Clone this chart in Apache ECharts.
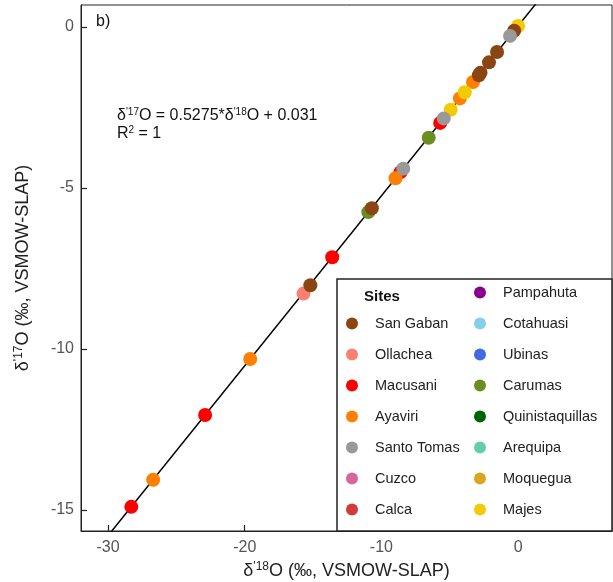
<!DOCTYPE html>
<html>
<head>
<meta charset="utf-8">
<script src="https://cdn.jsdelivr.net/npm/echarts@6.0.0/dist/echarts.min.js"></script>
<style>
  html, body { margin: 0; padding: 0; background: #fff; }
  #chart { width: 613px; height: 582px; }
</style>
</head>
<body>
<div id="chart"></div>
<script>
const FONT = "Liberation Sans, Arial, Helvetica, sans-serif";

const SITES = [
  "San Gaban", "Ollachea", "Macusani", "Ayaviri", "Santo Tomas", "Cuzco", "Calca",
  "Pampahuta", "Cotahuasi", "Ubinas", "Carumas", "Quinistaquillas", "Arequipa", "Moquegua", "Majes",
];
const SITE_COLORS = [
  "#8B4513", "#FA8072", "#FF0000", "#FF8000", "#999999", "#D6679C", "#D23A3A",
  "#8B008B", "#87CEEB", "#4169E1", "#6B8E23", "#006400", "#66CDAA", "#DAA520", "#F2CB05",
];
// draw order, higher on top
const SITE_Z = [4, 3, 3, 3, 5, 3, 3, 3, 3, 3, 2, 3, 3, 3, 3];

// d'18O values per site
const D18 = {
  "San Gaban": [-15.2, -10.7, -2.87, -2.75, -2.13, -1.54, -0.29],
  "Ollachea": [-15.7],
  "Macusani": [-28.3, -22.9, -13.6, -8.6, -5.7],
  "Ayaviri": [-26.7, -19.6, -8.97, -4.26, -3.3],
  "Santo Tomas": [-8.4, -5.44, -0.59],
  "Carumas": [-10.96, -6.54],
  "Majes": [-4.93, -3.9, 0.0],
};
// d'17O values per site
const D17 = {
  "San Gaban": [-8.02, -5.63, -1.5, -1.42, -1.1, -0.78, -0.12],
  "Ollachea": [-8.28],
  "Macusani": [-14.9, -12.05, -7.15, -4.51, -2.98],
  "Ayaviri": [-14.06, -10.31, -4.7, -2.22, -1.71],
  "Santo Tomas": [-4.4, -2.84, -0.28],
  "Carumas": [-5.75, -3.44],
  "Majes": [-2.57, -2.03, 0.03],
};

// regression line end points
const FIT_X = [-32, 2];
const FIT_Y = [-16.849, 1.086];

const X_TICKS = [-30, -20, -10, 0];
const Y_TICKS = [-15, -10, -5, 0];

const chartElement = document.getElementById("chart");
const chart = echarts.init(chartElement);

const supRich = {
  n: { fontSize: 18, fontFamily: FONT, color: "#222" },
  s: { fontSize: 12, fontFamily: FONT, color: "#222", padding: [0, 0, 8, 0] },
};

const scatterSeries = SITES.map((site, i) => {
  const xs = D18[site] || [];
  const ys = D17[site] || [];
  return {
    name: site,
    type: "scatter",
    symbol: "circle",
    symbolSize: 14,
    z: SITE_Z[i],
    itemStyle: { color: SITE_COLORS[i], opacity: 1 },
    data: xs.map((x, k) => [x, ys[k]]),
  };
});

const option = {
  animation: false,
  textStyle: { fontFamily: FONT },
  grid: {
    left: 81,
    top: 5,
    right: 1,
    bottom: 51,
    outerBoundsMode: "none",
    containLabel: false,
    show: true,
    borderColor: "#222",
    borderWidth: 1,
  },
  xAxis: {
    type: "value",
    min: -31.98,
    max: 6.87,
    name: "{n|δ}{s|'18}{n|O (‰, VSMOW-SLAP)}",
    nameLocation: "middle",
    nameGap: 30,
    nameTextStyle: { rich: supRich },
    splitLine: { show: false },
    axisLine: { onZero: false, lineStyle: { color: "#222" } },
    axisTick: {
      inside: true,
      length: 6,
      customValues: X_TICKS,
      lineStyle: { color: "#222", width: 1.2 },
    },
    axisLabel: {
      customValues: X_TICKS,
      fontSize: 16,
      color: "#555",
      margin: 9,
      fontFamily: FONT,
    },
  },
  yAxis: {
    type: "value",
    min: -15.65,
    max: 0.68,
    name: "{n|δ}{s|'17}{n|O (‰, VSMOW-SLAP)}",
    nameLocation: "middle",
    nameGap: 48,
    nameTextStyle: { rich: supRich },
    splitLine: { show: false },
    axisLine: { onZero: false, lineStyle: { color: "#222" } },
    axisTick: {
      inside: true,
      length: 6,
      customValues: Y_TICKS,
      lineStyle: { color: "#222", width: 1.2 },
    },
    axisLabel: {
      customValues: Y_TICKS,
      fontSize: 16,
      color: "#555",
      margin: 7,
      fontFamily: FONT,
    },
  },
  legend: [
    {
      orient: "vertical",
      left: 341,
      top: 311,
      itemWidth: 36,
      itemHeight: 12,
      itemGap: 16,
      icon: "circle",
      data: SITES.slice(0, 7),
      textStyle: { fontSize: 14.5, color: "#222", fontFamily: FONT },
      selectedMode: false,
    },
    {
      orient: "vertical",
      left: 469,
      top: 280,
      itemWidth: 36,
      itemHeight: 12,
      itemGap: 16,
      icon: "circle",
      data: SITES.slice(7),
      textStyle: { fontSize: 14.5, color: "#222", fontFamily: FONT },
      selectedMode: false,
    },
  ],
  graphic: [
    {
      type: "rect",
      z: 1,
      shape: { x: 337, y: 279, width: 275, height: 252 },
      style: { fill: "#fff", stroke: "#222", lineWidth: 1.5 },
    },
    {
      type: "text",
      z: 10,
      left: 364,
      top: 289,
      style: { text: "Sites", font: "bold 15px " + FONT, fill: "#111" },
    },
    {
      type: "text",
      z: 10,
      left: 96,
      top: 14,
      style: { text: "b)", font: "16px " + FONT, fill: "#111" },
    },
    {
      type: "text",
      z: 10,
      left: 117,
      top: 107,
      style: {
        text: "{n|δ}{s|'17}{n|O = 0.5275*δ}{s|'18}{n|O + 0.031}\n{n|R}{s|2}{n| = 1}",
        rich: {
          n: { fontSize: 16, fontFamily: FONT, fill: "#111", lineHeight: 18 },
          s: { fontSize: 10, fontFamily: FONT, fill: "#111", padding: [0, 0, 8, 0] },
        },
      },
    },
  ],
  series: [
    {
      name: "fit",
      type: "line",
      data: FIT_X.map((x, i) => [x, FIT_Y[i]]),
      symbol: "none",
      clip: true,
      z: 1,
      lineStyle: { color: "#000", width: 1.5 },
      silent: true,
    },
    ...scatterSeries,
  ],
};

chart.setOption(option);
</script>
</body>
</html>
